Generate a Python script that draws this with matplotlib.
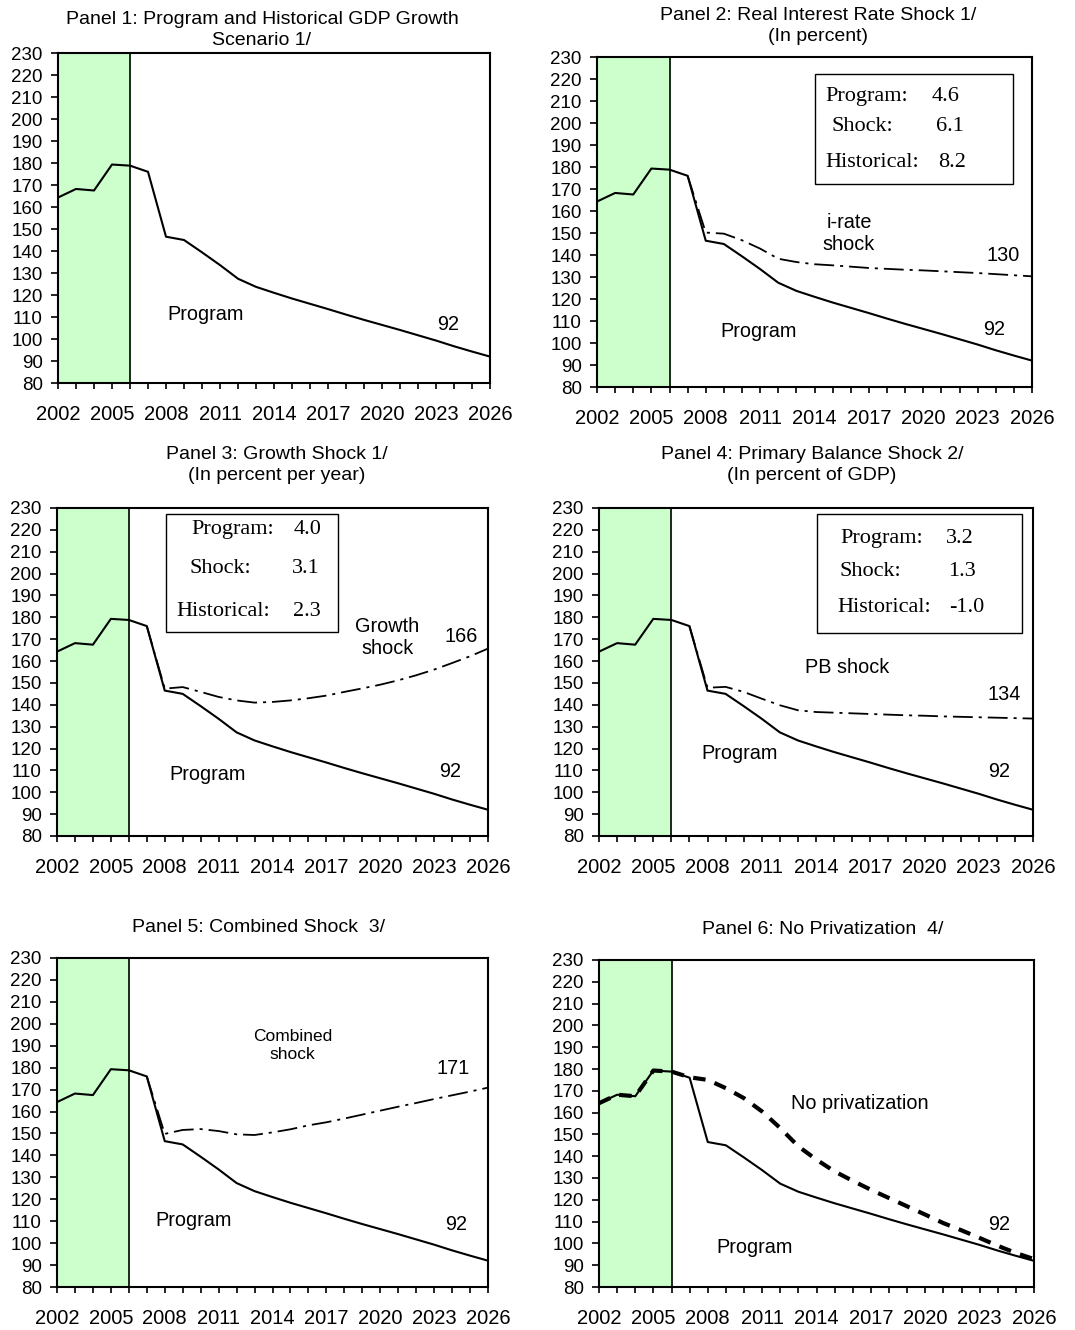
import numpy as np
import matplotlib
matplotlib.use("Agg")
import matplotlib.pyplot as plt
from matplotlib.patches import Rectangle

plt.rcParams['font.family'] = ['Liberation Sans', 'DejaVu Sans']

years = np.arange(2002, 2027)
shock_years = np.arange(2007, 2027)

program = [164.3, 168.2, 167.5, 179.3, 178.8, 176.0, 146.5, 145.0, 139.4, 133.6,
           127.4, 123.7, 121.0, 118.4, 116.0, 113.6, 111.1, 108.7, 106.4, 104.1,
           101.7, 99.3, 96.7, 94.3, 92.0]

irate = [176.0, 150.2, 149.7, 146.7, 142.9, 138.3, 136.8, 135.8, 135.3, 134.7,
         134.1, 133.7, 133.3, 133.0, 132.6, 132.2, 131.8, 131.3, 130.8, 130.3]
growth = [176.0, 147.4, 148.1, 145.9, 143.6, 142.0, 141.0, 141.3, 142.0, 143.0,
          144.2, 145.9, 147.5, 149.2, 151.2, 153.5, 156.1, 159.1, 162.2, 165.7]
pb = [176.0, 147.8, 148.2, 145.9, 142.8, 139.8, 137.5, 136.7, 136.4, 136.1,
      135.8, 135.5, 135.2, 135.0, 134.7, 134.5, 134.3, 134.1, 133.9, 133.7]
combined = [176.0, 149.8, 151.6, 152.0, 151.1, 149.6, 149.3, 150.5, 151.9, 153.7,
            155.1, 156.8, 158.6, 160.4, 162.2, 163.9, 165.7, 167.4, 169.1, 170.9]
nopriv = [164.3, 168.2, 167.5, 179.3, 178.8, 176.2, 175.0, 171.2, 166.6, 160.5,
          152.9, 144.5, 138.4, 133.0, 128.7, 124.6, 120.8, 117.0, 113.2, 109.3,
          106.0, 102.5, 98.9, 95.6, 92.8]

titles = ["Panel 1: Program and Historical GDP Growth\nScenario 1/",
          "Panel 2: Real Interest Rate Shock 1/\n(In percent)",
          "Panel 3: Growth Shock 1/\n(In percent per year)",
          "Panel 4: Primary Balance Shock 2/\n(In percent of GDP)",
          "Panel 5: Combined Shock  3/",
          "Panel 6: No Privatization  4/"]

box_labels = ["Program:", "Shock:", "Historical:"]
box2 = ["4.6", "6.1", "8.2"]
box3 = ["4.0", "3.1", "2.3"]
box4 = ["3.2", "1.3", "-1.0"]

W, H = 1075, 1330
fig = plt.figure(figsize=(W / 100, H / 100), dpi=100)

# axes boxes in pixels: x0, x1, ytop, ybottom
rects = [(58, 490, 53, 383), (597, 1032, 57, 387),
         (57, 488, 508, 836), (599, 1033, 508, 836),
         (57, 488, 958, 1287), (599, 1034, 960, 1287)]
title_pos = [(262, 30), (818, 26), (277, 465), (812, 465), (258, 928), (823, 930)]

FS = 14.3

axes = []
for i, (x0, x1, yt, yb) in enumerate(rects):
    ax = fig.add_axes([x0 / W, 1 - yb / H, (x1 - x0) / W, (yb - yt) / H])
    ax.axvspan(2002, 2006, color="#ccffcc", zorder=0)
    ax.axvline(2006, color="black", lw=1.2, zorder=1)
    ax.plot(years, program, color="black", lw=1.5, zorder=3)
    ax.set_xlim(2002, 2026)
    ax.set_ylim(80, 230)
    ax.set_xticks(years)
    ax.set_xticklabels([str(y) if (y - 2002) % 3 == 0 else "" for y in years])
    ax.set_yticks(np.arange(80, 231, 10))
    ax.tick_params(axis="x", length=4.5, width=1.2, pad=11, labelsize=14.5)
    ax.tick_params(axis="y", length=5, width=1.2, pad=6, labelsize=13.5)
    for s in ax.spines.values():
        s.set_linewidth(1.5)
    tx, ty = title_pos[i]
    fig.text(tx / W, 1 - ty / H, titles[i], ha="center", va="center",
             fontsize=14, linespacing=1.3)
    axes.append(ax)

dashdot = (0, (11, 3.3, 1.7, 3.3))

def add_box(ax, x0, x1, yt, yb, rows, vals):
    ax.add_patch(Rectangle((x0, yb), x1 - x0, yt - yb, transform=ax.transAxes,
                           fill=True, facecolor="white", edgecolor="black",
                           lw=1.0, zorder=5))
    for (lx, vx, y), lab, v in zip(rows, box_labels, vals):
        ax.text(lx, y, lab, transform=ax.transAxes, family="Liberation Serif",
                fontsize=16, va="center", zorder=6)
        ax.text(vx, y, v, transform=ax.transAxes, family="Liberation Serif",
                fontsize=16, va="center", zorder=6)

# panel 1
ax = axes[0]
ax.text(2010.2, 111.3, "Program", ha="center", va="center", fontsize=FS)
ax.text(2023.7, 106.7, "92", ha="center", va="center", fontsize=FS)

# panel 2
ax = axes[1]
ax.plot(shock_years, irate, color="black", lw=1.3, linestyle=dashdot, zorder=4)
ax.text(2010.9, 105.3, "Program", ha="center", va="center", fontsize=FS)
ax.text(2023.9, 106.0, "92", ha="center", va="center", fontsize=FS)
ax.text(2024.4, 139.8, "130", ha="center", va="center", fontsize=FS)
ax.text(2015.9, 150.0, "i-rate\nshock", ha="center", va="center", fontsize=FS,
        linespacing=1.2)
add_box(ax, 0.501, 0.957, 0.947, 0.614,
        [(0.525, 0.770, 0.879), (0.539, 0.779, 0.790), (0.525, 0.785, 0.679)], box2)

# panel 3
ax = axes[2]
ax.plot(shock_years, growth, color="black", lw=1.3, linestyle=dashdot, zorder=4)
ax.text(2010.4, 108.2, "Program", ha="center", va="center", fontsize=FS)
ax.text(2023.9, 109.7, "92", ha="center", va="center", fontsize=FS)
ax.text(2024.5, 171.3, "166", ha="center", va="center", fontsize=FS)
ax.text(2020.4, 170.9, "Growth\nshock", ha="center", va="center", fontsize=FS,
        linespacing=1.2)
add_box(ax, 0.2525, 0.651, 0.983, 0.622,
        [(0.311, 0.548, 0.934), (0.307, 0.544, 0.815), (0.276, 0.548, 0.683)], box3)

# panel 4
ax = axes[3]
ax.plot(shock_years, pb, color="black", lw=1.3, linestyle=dashdot, zorder=4)
ax.text(2009.75, 117.7, "Program", ha="center", va="center", fontsize=FS)
ax.text(2024.1, 109.6, "92", ha="center", va="center", fontsize=FS)
ax.text(2024.4, 144.8, "134", ha="center", va="center", fontsize=FS)
ax.text(2015.7, 157.0, "PB shock", ha="center", va="center", fontsize=FS)
add_box(ax, 0.502, 0.974, 0.981, 0.619,
        [(0.557, 0.799, 0.907), (0.553, 0.804, 0.807), (0.549, 0.807, 0.698)], box4)

# panel 5
ax = axes[4]
ax.plot(shock_years, combined, color="black", lw=1.3, linestyle=dashdot, zorder=4)
ax.text(2009.6, 110.2, "Program", ha="center", va="center", fontsize=FS)
ax.text(2024.2, 108.6, "92", ha="center", va="center", fontsize=FS)
ax.text(2024.05, 179.8, "171", ha="center", va="center", fontsize=FS)
ax.text(2015.1, 190.3, "Combined\nshock", ha="center", va="center", fontsize=12.5,
        linespacing=1.25)

# panel 6
ax = axes[5]
ax.plot(years, nopriv, color="black", lw=3, linestyle=(0, (3.0, 2.3)), zorder=4)
ax.text(2010.6, 97.9, "Program", ha="center", va="center", fontsize=FS)
ax.text(2024.1, 108.6, "92", ha="center", va="center", fontsize=FS)
ax.text(2016.4, 164.0, "No privatization", ha="center", va="center", fontsize=FS)

fig.savefig("out.png", dpi=100)
